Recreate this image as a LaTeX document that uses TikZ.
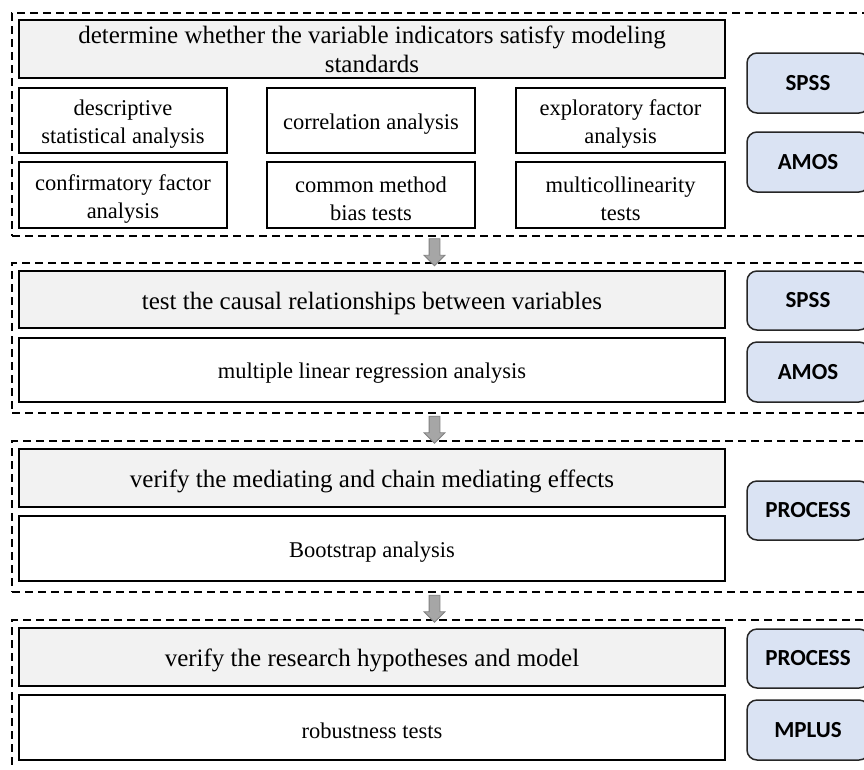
\documentclass[tikz,border=0pt]{standalone}
\usepackage{fontspec}
\setmainfont{Liberation Serif}
\newfontfamily\toolfont{Carlito}
\usetikzlibrary{shapes.arrows}
\definecolor{headgray}{HTML}{F2F2F2}
\definecolor{toolblue}{HTML}{DAE3F3}
\definecolor{arrowgray}{HTML}{A6A6A6}
\newcommand{\tstrut}{\rule{0pt}{23.5pt}}

\begin{document}
\begin{tikzpicture}[x=1pt, y=-1pt]
          \tikzstyle{stage}=[draw=black, dash pattern=on 8pt off 5pt, line width=1.7pt, inner sep=0pt, minimum width=870pt]
          \tikzstyle{head}=[draw=black, line width=1.5pt, fill=headgray, align=center, inner sep=0pt, minimum width=706pt, font=\fontsize{25}{29}\selectfont, execute at begin node={\rule{0pt}{25pt}}]
          \tikzstyle{task}=[draw=black, line width=1.5pt, fill=white, align=center, inner sep=0pt, font=\fontsize{22.5}{28}\selectfont, execute at begin node={\rule{0pt}{22pt}}]
          \tikzstyle{tool}=[draw=black!85, line width=1.5pt, rounded corners=10pt, fill=toolblue, inner sep=0pt, minimum width=122pt, font=\toolfont\bfseries\fontsize{23}{26}\selectfont]
          \tikzstyle{flow}=[single arrow, draw=black!50, fill=arrowgray, line width=0.8pt, inner sep=5pt, single arrow head extend=5pt, minimum height=27pt, minimum width=20pt, rotate=-90]

          \useasboundingbox (0,0) rectangle (864,769);
          \clip (0,0) rectangle (864,769);

          \node[stage, minimum height=223pt] (S1) at (447,124.5) {};
          \node[stage, minimum height=150pt] (S2) at (447,338) {};
          \node[stage, minimum height=151pt] (S3) at (447,516.5) {};
          \node[stage, minimum height=151pt] (S4) at (447,695.5) {};

          \node[head, minimum height=58pt] (H1) at (372,49) {determine whether the variable indicators satisfy modeling\\standards};
          \node[task, minimum width=208pt, minimum height=65pt] (T11) at (123,120.5) {\tstrut descriptive\\statistical analysis};
          \node[task, minimum width=208pt, minimum height=65pt] (T12) at (371,120.5) {correlation analysis};
          \node[task, minimum width=209pt, minimum height=65pt] (T13) at (620.5,120.5) {\tstrut exploratory factor\\analysis};
          \node[task, minimum width=208pt, minimum height=66pt] (T14) at (123,195) {\tstrut confirmatory factor\\analysis};
          \node[task, minimum width=208pt, minimum height=66pt] (T15) at (371,195) {\tstrut common method\\bias tests};
          \node[task, minimum width=209pt, minimum height=66pt] (T16) at (620.5,195) {\tstrut multicollinearity\\tests};
          \node[tool, minimum height=60pt] (SPSS1) at (808,83) {SPSS};
          \node[tool, minimum height=60pt] (AMOS1) at (808,162) {AMOS};

          \node[head, minimum height=57pt] (H2) at (372,299.5) {test the causal relationships between variables};
          \node[task, minimum width=706pt, minimum height=64pt] (T2) at (372,370) {multiple linear regression analysis};
          \node[tool, minimum height=59pt] (SPSS2) at (808,300.5) {SPSS};
          \node[tool, minimum height=60pt] (AMOS2) at (808,372) {AMOS};

          \node[head, minimum height=58pt] (H3) at (372,478) {verify the mediating and chain mediating effects};
          \node[task, minimum width=706pt, minimum height=65pt] (T3) at (372,548.5) {Bootstrap analysis};
          \node[tool, minimum height=59pt] (PROC3) at (808,510.5) {PROCESS};

          \node[head, minimum height=58pt] (H4) at (372,657) {verify the research hypotheses and model};
          \node[task, minimum width=706pt, minimum height=65pt] (T4) at (372,727.5) {robustness tests};
          \node[tool, minimum height=59pt] (PROC4) at (808,658.5) {PROCESS};
          \node[tool, minimum height=60pt] (MPLUS) at (808,730) {MPLUS};

          \node[flow] (A1) at (434.5,249.5) {};
          \node[flow] (A2) at (434.5,427) {};
          \node[flow] (A3) at (434.5,606) {};

        \end{tikzpicture}
\end{document}
